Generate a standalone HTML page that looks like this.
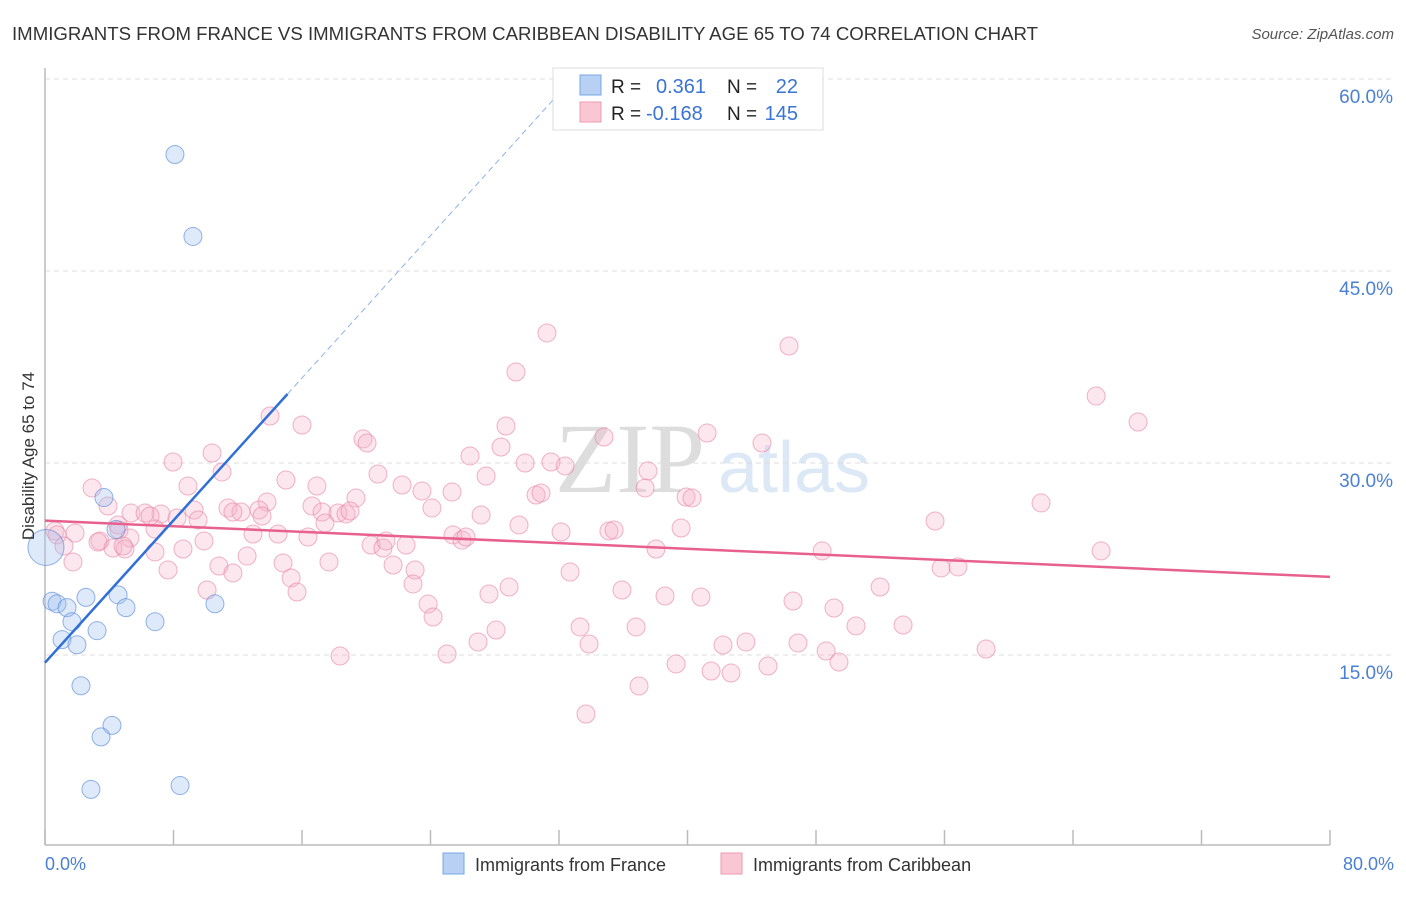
<!DOCTYPE html>
<html><head><meta charset="utf-8"><style>
body{margin:0;background:#fff;font-family:"Liberation Sans",sans-serif;}
svg text{font-family:"Liberation Sans",sans-serif;}
</style></head><body>
<svg id="chart" width="1406" height="892">
<text x="12" y="40" font-size="18" fill="#333" textLength="1026" lengthAdjust="spacingAndGlyphs">IMMIGRANTS FROM FRANCE VS IMMIGRANTS FROM CARIBBEAN DISABILITY AGE 65 TO 74 CORRELATION CHART</text>
<text x="1394" y="39" font-size="15" fill="#555" font-style="italic" text-anchor="end">Source: ZipAtlas.com</text>
<text x="555" y="492" font-size="100" fill="#ddd" style="font-family:'Liberation Serif',serif">ZIP</text>
<text x="718" y="492" font-size="72" fill="#dce8f6">atlas</text>
<g id="grid"></g>
<g id="axes"></g>
<g id="marks"></g>
<text transform="translate(34,456) rotate(-90)" font-size="17" fill="#333" text-anchor="middle">Disability Age 65 to 74</text>
<text x="45" y="870" font-size="18" fill="#4a7fd4">0.0%</text>
<text x="1394" y="870" font-size="18" fill="#4a7fd4" text-anchor="end">80.0%</text>
<g>
<rect x="553" y="68" width="270" height="62" fill="#fff" stroke="#ddd"/>
<rect x="580" y="75" width="21" height="20" fill="#b8d0f3" stroke="#7aa6e6"/>
<rect x="580" y="102" width="21" height="20" fill="#f9c6d4" stroke="#ef9ab3"/>
<text x="611" y="93" font-size="19" fill="#222">R =</text>
<text x="656" y="93" font-size="20" fill="#3a74d4">0.361</text>
<text x="727" y="93" font-size="19" fill="#222">N =</text>
<text x="798" y="93" font-size="20" fill="#3a74d4" text-anchor="end">22</text>
<text x="611" y="120" font-size="19" fill="#222">R =</text>
<text x="646" y="120" font-size="20" fill="#3a74d4">-0.168</text>
<text x="727" y="120" font-size="19" fill="#222">N =</text>
<text x="798" y="120" font-size="20" fill="#3a74d4" text-anchor="end">145</text>
</g>
<g>
<rect x="443" y="853" width="21" height="21" fill="#b8d0f3" stroke="#7aa6e6"/>
<text x="475" y="871" font-size="18" fill="#333">Immigrants from France</text>
<rect x="721" y="853" width="21" height="21" fill="#f9c6d4" stroke="#ef9ab3"/>
<text x="753" y="871" font-size="18" fill="#333">Immigrants from Caribbean</text>
</g>
</svg>
<script>
const yTicks=[15,30,45,60];
const yTickLabels=["15.0%","30.0%","45.0%","60.0%"];
const franceX=[8.09,9.21,3.67,4.42,0.44,0.75,1.37,2.55,1.68,1.06,1.99,3.24,4.55,5.04,6.85,10.58,2.24,4.17,3.49,2.86,8.41,0.06];
const franceY=[54.1,47.7,27.3,24.8,19.2,19.0,18.7,19.5,17.6,16.2,15.8,16.9,19.7,18.7,17.6,19.0,12.6,9.5,8.6,4.5,4.8,23.4];
const caribX=[31.25,46.32,29.32,65.44,68.05,14.01,16.00,28.70,19.80,20.05,34.80,41.22,44.64,28.39,10.40,7.97,26.46,29.89,31.50,32.38,37.54,11.02,20.73,27.46,2.93,8.90,15.00,16.93,22.23,23.47,25.34,30.57,30.88,37.36,39.91,40.28,19.36,16.62,13.82,11.39,12.20,13.32,11.70,13.51,9.28,3.92,5.35,7.22,6.23,6.54,8.22,9.53,17.25,18.24,18.74,18.99,24.09,27.15,62.01,55.41,4.55,6.85,4.61,0.62,0.75,1.87,3.42,5.29,9.90,12.95,14.51,16.37,17.43,25.40,25.96,26.21,32.13,35.11,35.43,39.60,29.51,20.30,21.04,21.23,22.48,1.18,3.30,4.23,4.98,6.85,8.59,4.86,12.58,17.68,21.67,23.04,38.04,48.38,65.75,1.74,7.66,10.83,11.70,14.82,15.32,32.69,55.79,56.84,22.91,15.69,10.09,27.64,28.89,35.92,38.60,40.84,51.99,46.57,49.12,23.85,24.16,33.31,36.80,28.08,50.49,53.42,33.87,26.96,42.21,43.64,46.88,48.63,58.59,18.37,25.03,39.29,41.47,42.71,45.01,49.43,36.98,33.68];
const caribY=[40.16,39.14,37.11,35.23,33.20,33.67,32.97,32.89,31.88,31.56,32.03,32.34,31.56,31.25,30.78,30.08,30.55,30.00,30.08,29.77,29.38,29.30,29.14,28.98,28.05,28.20,28.67,28.20,28.28,27.81,27.73,27.50,27.66,28.05,27.34,27.27,27.27,26.64,26.95,26.48,26.17,26.33,26.17,25.86,26.33,26.64,26.09,26.02,26.09,25.86,25.70,25.55,26.17,26.09,26.02,26.25,26.48,25.94,26.88,25.47,25.16,24.84,24.77,24.69,24.38,24.53,23.91,24.14,23.91,24.45,24.45,24.22,25.31,24.38,23.98,24.22,24.61,24.69,24.77,24.92,25.16,23.59,23.36,23.91,23.59,23.52,23.83,23.36,23.28,23.05,23.28,23.52,22.73,22.27,22.03,21.64,23.28,23.13,23.13,22.27,21.64,21.95,21.41,22.19,21.02,21.48,21.80,21.88,20.55,19.92,20.08,19.77,20.31,20.08,19.61,19.53,20.31,19.22,18.67,18.98,17.97,17.19,17.19,16.95,17.27,17.34,15.86,16.02,15.78,16.02,15.94,15.31,15.47,14.92,15.08,14.30,13.75,13.59,14.14,14.45,12.58,10.39];
const franceTrend=[14.4,1.39];
const caribTrend=[25.5,-0.055];
const NS="http://www.w3.org/2000/svg";
const X=v=>45+v/80*1285;
const Y=v=>847-v/15*192;
function mk(tag,attrs,parent){const e=document.createElementNS(NS,tag);for(const k in attrs)e.setAttribute(k,attrs[k]);document.getElementById(parent).appendChild(e);return e;}
yTicks.forEach((t,i)=>{
 const g=mk('line',{x1:45,x2:1393,y1:Y(t),y2:Y(t),stroke:'#ddd','stroke-dasharray':'5,4'},'grid');
 
 
 const l=mk('text',{x:1393,y:Y(t)+24,'font-size':19,fill:'#4a7fd4','text-anchor':'end'},'grid');
 l.textContent=yTickLabels[i];
 
 
});
const ya=mk('line',{x1:45,x2:45,y1:68,y2:845,stroke:'#bbb','stroke-width':1.5},'axes');


const xa=mk('line',{x1:45,x2:1330,y1:845,y2:845,stroke:'#bbb','stroke-width':1.5},'axes');


for(let i=0;i<=10;i++){const t=mk('line',{x1:X(i*8),x2:X(i*8),y1:830,y2:845,stroke:'#bbb','stroke-width':1.5},'axes');
 
 }
caribX.forEach((x,i)=>{const c=mk('circle',{cx:X(x),cy:Y(caribY[i]),r:9,fill:'rgba(246,175,198,0.3)',stroke:'rgba(232,130,162,0.6)','stroke-width':1},'marks');
 
 });
franceX.forEach((x,i)=>{const c=mk('circle',{cx:X(x),cy:Y(franceY[i]),r:i===franceX.length-1?18:9,fill:'rgba(160,192,238,0.35)',stroke:'rgba(90,140,218,0.65)','stroke-width':1},'marks');
 
 });
const ct=mk('line',{x1:X(0),y1:Y(caribTrend[0]),x2:X(80),y2:Y(caribTrend[0]+caribTrend[1]*80),stroke:'#e8608e','stroke-width':2.5},'marks');


const fe=15.1, fd=32.4;
const ft=mk('line',{x1:X(0),y1:Y(franceTrend[0]),x2:X(fe),y2:Y(franceTrend[0]+franceTrend[1]*fe),stroke:'#2f6fd6','stroke-width':2.5},'marks');


const fdl=mk('line',{x1:X(fe),y1:Y(franceTrend[0]+franceTrend[1]*fe),x2:X(fd),y2:Y(franceTrend[0]+franceTrend[1]*fd),stroke:'#8fb2e8','stroke-width':1,'stroke-dasharray':'6,4'},'marks');


</script>
</body></html>
